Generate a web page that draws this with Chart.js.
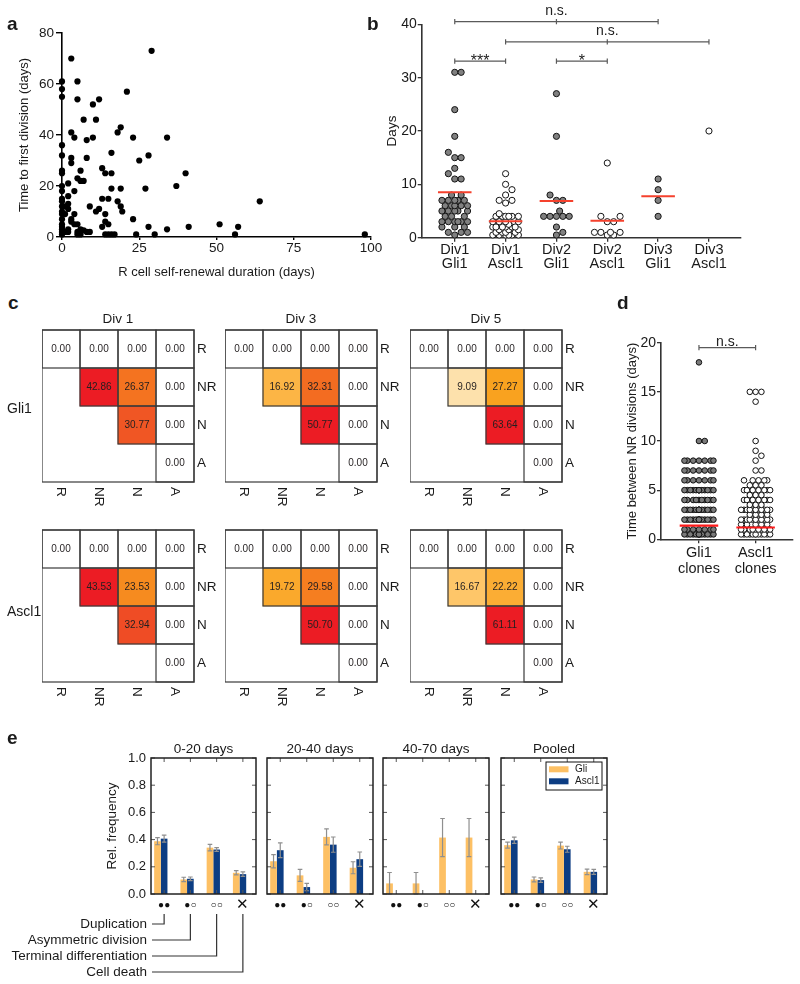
<!DOCTYPE html>
<html><head><meta charset="utf-8">
<script src="https://cdn.jsdelivr.net/npm/chart.js@4.4.1/dist/chart.umd.min.js"></script>
<style>
html,body{margin:0;padding:0;background:#fff;}
#fig{position:relative;width:800px;height:984px;overflow:hidden;font-family:'Liberation Sans',Arial,sans-serif;color:#1a1a1a;}
.lbl{position:absolute;white-space:nowrap;}
canvas{position:absolute;}
</style></head><body><div id="fig"></div>
<script>
// ---------------- DATA ----------------
// Panel a
const aSelfRenewal = [29,3,0,5,0,21,0,5,12,10, 7,11,19,18,3,4,10,23,34,8, 0,16,28,0,3,8,25,3,13,0, 6,0,14,16,40,5,6,7,2,0, 37,16,19,27,0,4,2,13,15,0, 18,64,2,0,9,19,2,12,0,11, 19.5,0,4,14,1,3,0,23,14,5, 0,15,51,13,28,41,57,0,6,2, 34,0,7,1,2,8,9,0,5,5, 6,14,15,16,17,24,30,56,98,0, 3,1,0,4];
const aFirstDivision = [73,70,61,61,58,57,55,54,54,52, 46,46,43,41,41,39,39,39,39,38, 36,33,32,32,31,31,30,29,27,26, 26,25,25,25,25,23,22,22,21,20, 20,19,19,19,18,18,16,15,15,14, 14,14,13,12,12,12,11,11,10,10, 10,9,9,9,9,7,7,7,6,5, 5,5,5,4,4,4,4,4,3,3, 3,3,2.6,2,2,2,2,2,2,1, 1,1,1,1,1,1,1,1,1,1, 6,12,15,5];

// Panel b
const bCategories = [['Div1','Gli1'],['Div1','Ascl1'],['Div2','Gli1'],['Div2','Ascl1'],['Div3','Gli1'],['Div3','Ascl1']];
const bDiv1Gli1 = [31,31,24,19,16,15,15,13,12,11,11,8,8,7,7,7,7,7,6,6,6,6,6,5,5,5,5,5,4,4,4,3,3,3,3,3,3,2,2,2,1,1,1,0.5];
const bDiv1Ascl1 = [12,10,9,8,7,7,6.5,4.5,4,4,4,4,4,4,3,3,3,3,2.5,2,2,2,2,2,2,1.5,1.5,1.5,1,1,1,1,0.5,0.5,0.5,0.5,0.5,0.5];
const bDiv2Gli1 = [27,19,8,7,7,5,4,4,4,4,4,2,1,0.5];
const bDiv2Ascl1 = [14,4,4,3,3,1,1,1,1,0.5,0.5];
const bDiv3Gli1 = [11,9,7,4];
const bDiv3Ascl1 = [20];
const bMeans = [8.5,3.1,6.9,3.2,7.75,null];
const bBrackets = [
  {from:0,to:4,mid:2,y:40.5,label:'n.s.',size:14,gap:6.7},
  {from:1,to:5,mid:3,y:36.7,label:'n.s.',size:14,gap:6.7},
  {from:0,to:1,y:33.1,label:'***',size:16,gap:-4.5},
  {from:2,to:3,y:33.1,label:'*',size:16,gap:-4.5}
];

// Panel c
const cRowLabels = ['R','NR','N','A'];
const cGli1Div1 = [[0,0,0,0],[null,42.86,26.37,0],[null,null,30.77,0],[null,null,null,0]];
const cGli1Div3 = [[0,0,0,0],[null,16.92,32.31,0],[null,null,50.77,0],[null,null,null,0]];
const cGli1Div5 = [[0,0,0,0],[null,9.09,27.27,0],[null,null,63.64,0],[null,null,null,0]];
const cAscl1Div1 = [[0,0,0,0],[null,43.53,23.53,0],[null,null,32.94,0],[null,null,null,0]];
const cAscl1Div3 = [[0,0,0,0],[null,19.72,29.58,0],[null,null,50.70,0],[null,null,null,0]];
const cAscl1Div5 = [[0,0,0,0],[null,16.67,22.22,0],[null,null,61.11,0],[null,null,null,0]];

// Panel d  ([value, number of clones])
const dCategories = [['Gli1','clones'],['Ascl1','clones']];
const dGli1Counts = [[18,1],[10,2],[8,7],[7,7],[6,7],[5,14],[4,10],[3,14],[2,14],[1,7],[0.5,14]];
const dAscl1Counts = [[15,3],[14,1],[10,1],[9,1],[8.5,1],[8,1],[7,2],[6,5],[5.5,3],[5,7],[4.5,3],[4,7],[3.5,3],[3,12],[2.5,4],[2,12],[1.5,5],[1,10],[0.5,12]];
const dMedians = [1.4,1.2];
const dBrackets = [{from:0,to:1,y:19.5,label:'n.s.',size:14,gap:1.8}];

// Panel e
const eCategories = ['●●','●○','○○','✕'];
const eEventNames = ['Duplication','Asymmetric division','Terminal differentiation','Cell death'];
const eWindows = ['0-20 days','20-40 days','40-70 days','Pooled'];
const eGli_0_20 = [0.388,0.107,0.341,0.156];
const eGliErr_0_20 = [0.026,0.016,0.024,0.016];
const eAscl1_0_20 = [0.407,0.112,0.327,0.146];
const eAscl1Err_0_20 = [0.026,0.013,0.014,0.016];
const eGli_20_40 = [0.241,0.137,0.42,0.193];
const eGliErr_20_40 = [0.049,0.044,0.059,0.044];
const eAscl1_20_40 = [0.322,0.051,0.363,0.256];
const eAscl1Err_20_40 = [0.054,0.027,0.056,0.053];
const eGli_40_70 = [0.078,0.078,0.415,0.415];
const eGliErr_40_70 = [0.08,0.08,0.14,0.14];
const eAscl1_40_70 = [0,0,0,0];
const eAscl1Err_40_70 = [0,0,0,0];
const eGli_pooled = [0.359,0.107,0.356,0.163];
const eGliErr_pooled = [0.022,0.018,0.025,0.02];
const eAscl1_pooled = [0.395,0.102,0.329,0.163];
const eAscl1Err_pooled = [0.023,0.017,0.022,0.018];
const eYTicks = [0,0.2,0.4,0.6,0.8,1.0];

// ---------------- SETUP ----------------
const FONT = "'Liberation Sans', Arial, sans-serif";
Chart.defaults.font.family = FONT;
Chart.defaults.color = '#1a1a1a';
Chart.defaults.animation = false;
Chart.defaults.responsive = false;
Chart.defaults.devicePixelRatio = 1;
Chart.defaults.events = [];
Chart.defaults.plugins.legend.display = false;
Chart.defaults.plugins.tooltip.enabled = false;

const fig = document.getElementById('fig');
function mk(left, top, w, h) {
  const c = document.createElement('canvas');
  c.width = w; c.height = h;
  c.style.left = left + 'px'; c.style.top = top + 'px';
  c.style.width = w + 'px'; c.style.height = h + 'px';
  fig.appendChild(c);
  return c;
}
function zeroPad(s){ s.paddingTop = 0; s.paddingBottom = 0; s.paddingLeft = 0; s.paddingRight = 0; }
function fixW(w){ return s => { s.width = w; zeroPad(s); }; }
function fixH(h){ return s => { s.height = h; zeroPad(s); }; }
function label(str, left, baseline, size, weight) {
  const d = document.createElement('div');
  d.className = 'lbl';
  d.textContent = str;
  d.style.left = left + 'px';
  d.style.top = (baseline - 0.8465 * size) + 'px';
  d.style.fontSize = size + 'px';
  d.style.lineHeight = size + 'px';
  d.style.fontWeight = weight || 'normal';
  fig.appendChild(d);
}
function expand(counts){ const out = []; counts.forEach(([v,n]) => { for (let i = 0; i < n; i++) out.push(v); }); return out; }

// beeswarm: spreads each group's points sideways (in pixels) so they do not overlap
function applySwarm(chart, groups, diam, maxHalf) {
  const xs = chart.scales.x, ys = chart.scales.y;
  const cands = [0];
  for (let k = 1; k * diam / 2 <= maxHalf + 0.01; k++) cands.push(k * diam / 2, -k * diam / 2);
  groups.forEach((vals, gi) => {
    const cx = xs.getPixelForValue(gi);
    const placed = [];
    const sorted = vals.slice().sort((a, b) => a - b);
    chart.data.datasets[gi].data = sorted.map(v => {
      const py = ys.getPixelForValue(v);
      let best = 0, bestD = -1;
      for (const off of cands) {
        const md = placed.reduce((m, p) => Math.min(m, Math.hypot(p.x - off, p.y - py)), Infinity);
        if (md >= diam - 0.01) { best = off; break; }
        if (md > bestD) { bestD = md; best = off; }
      }
      placed.push({x: best, y: py});
      return {x: xs.getValueForPixel(cx + best), y: v};
    });
  });
  chart.update();
}

function bracketPlugin(brackets, color) {
  return { id: 'brackets', afterDatasetsDraw(chart) {
    const {ctx, scales: {x, y}} = chart;
    ctx.save();
    ctx.strokeStyle = color; ctx.lineWidth = 1.2; ctx.fillStyle = '#222';
    ctx.textAlign = 'center'; ctx.textBaseline = 'alphabetic';
    brackets.forEach(b => {
      const x0 = x.getPixelForValue(b.from), x1 = x.getPixelForValue(b.to), py = y.getPixelForValue(b.y);
      ctx.beginPath(); ctx.moveTo(x0, py); ctx.lineTo(x1, py);
      [b.from, b.to].concat(b.mid != null ? [b.mid] : []).forEach(t => {
        const px = x.getPixelForValue(t); ctx.moveTo(px, py - 2.6); ctx.lineTo(px, py + 2.6);
      });
      ctx.stroke();
      ctx.font = b.size + 'px ' + FONT;
      const tx = x.getPixelForValue(b.mid != null ? b.mid : (b.from + b.to) / 2);
      ctx.fillText(b.label, tx, py - b.gap);
    });
    ctx.restore();
  }};
}
function centerLinePlugin(values, half, color, width) {
  return { id: 'centerLines', afterDatasetsDraw(chart) {
    const {ctx, scales: {x, y}} = chart;
    ctx.save(); ctx.strokeStyle = color; ctx.lineWidth = width;
    values.forEach((v, i) => {
      if (v == null) return;
      const py = y.getPixelForValue(v);
      ctx.beginPath(); ctx.moveTo(x.getPixelForValue(i - half), py); ctx.lineTo(x.getPixelForValue(i + half), py); ctx.stroke();
    });
    ctx.restore();
  }};
}

// ---------------- PANEL a ----------------
new Chart(mk(0, 0, 392, 285), {
  type: 'scatter',
  data: { datasets: [{ data: aSelfRenewal.map((x, i) => ({x, y: aFirstDivision[i]})),
    backgroundColor: '#000', borderColor: '#000', borderWidth: 0, pointRadius: 3.1, clip: false }] },
  options: {
    layout: { padding: { left: 0, top: 33, right: 21, bottom: 0 } },
    scales: {
      x: { type: 'linear', min: 0, max: 100,
        ticks: { stepSize: 25, font: { size: 13.5 }, padding: 0, maxRotation: 0 },
        grid: { drawOnChartArea: false, drawTicks: true, tickLength: 3, color: '#000', lineWidth: 1.4 },
        border: { color: '#000', width: 1.6 },
        title: { display: true, text: 'R cell self-renewal duration (days)', font: { size: 13 }, padding: { top: 0, bottom: 5.2 } },
        afterFit: fixH(48) },
      y: { min: 0, max: 80,
        ticks: { stepSize: 20, font: { size: 13.5 }, padding: 2 },
        grid: { drawOnChartArea: false, drawTicks: true, tickLength: 6, color: '#000', lineWidth: 1.4 },
        border: { color: '#000', width: 1.6 },
        title: { display: true, text: 'Time to first division (days)', font: { size: 13 }, padding: { top: 16.4, bottom: 0 } },
        afterFit: fixW(62) }
    }
  }
});

// ---------------- PANEL b ----------------
const bGroups = [bDiv1Gli1, bDiv1Ascl1, bDiv2Gli1, bDiv2Ascl1, bDiv3Gli1, bDiv3Ascl1];
const bChart = new Chart(mk(380, 0, 420, 290), {
  type: 'scatter',
  data: { datasets: bGroups.map((vals, i) => ({
    data: vals.map(v => ({x: i, y: v})),
    backgroundColor: i % 2 ? '#ffffff' : '#808080', borderColor: '#151515', borderWidth: 1,
    pointRadius: 3.1, clip: false })) },
  options: {
    layout: { padding: { left: 0, top: 24.3, right: 59, bottom: 0 } },
    scales: {
      x: { type: 'linear', min: -0.65, max: 5.63,
        afterBuildTicks: s => { s.ticks = bCategories.map((c, i) => ({ value: i })); },
        ticks: { callback: (v, i) => bCategories[i], font: { size: 14.5, lineHeight: '13.3px' }, padding: 2, maxRotation: 0, autoSkip: false },
        grid: { drawOnChartArea: false, drawTicks: true, tickLength: 4, color: '#333', lineWidth: 1.3 },
        border: { color: '#333', width: 1.6 },
        afterFit: fixH(52.3) },
      y: { min: 0, max: 40,
        ticks: { stepSize: 10, font: { size: 14 }, padding: 1 },
        grid: { drawOnChartArea: false, drawTicks: true, tickLength: 4, color: '#333', lineWidth: 1.3 },
        border: { color: '#333', width: 1.6 },
        title: { display: true, text: 'Days', font: { size: 13.5 }, padding: { top: 4.5, bottom: 0 } },
        afterFit: fixW(41.7) }
    }
  },
  plugins: [centerLinePlugin(bMeans, 0.33, '#f5412d', 2), bracketPlugin(bBrackets, '#5a5a5a')]
});
applySwarm(bChart, bGroups, 6.4, 14);

// ---------------- PANEL c ----------------
const heatStops = [[0,'#ffffff'],[0.14,'#fde2ad'],[0.27,'#fec76b'],[0.36,'#fbae35'],[0.43,'#f9a21f'],[0.55,'#f6891f'],[0.64,'#f36b21'],[0.76,'#ef4b25'],[1,'#ec1c24']];
function hex2rgb(h){ return [1,3,5].map(i => parseInt(h.slice(i, i + 2), 16)); }
function heat(v, max) {
  if (v === null) return 'rgba(0,0,0,0)';
  if (v === 0) return '#ffffff';
  const t = Math.min(1, v / max);
  for (let i = 1; i < heatStops.length; i++) {
    if (t <= heatStops[i][0]) {
      const [t0, c0] = heatStops[i - 1], [t1, c1] = heatStops[i];
      const f = (t - t0) / (t1 - t0), a = hex2rgb(c0), b = hex2rgb(c1);
      return 'rgb(' + a.map((x, k) => Math.round(x + (b[k] - x) * f)).join(',') + ')';
    }
  }
  return heatStops[heatStops.length - 1][1];
}
function matrixPlugin(title, mat) {
  return { id: 'matrixDecor', afterDatasetsDraw(chart) {
    const {ctx, chartArea: a, scales: {x, y}} = chart;
    const cw = (a.right - a.left) / 4;
    ctx.save();
    ctx.strokeStyle = '#3a3a3a'; ctx.lineWidth = 1.2;
    mat.forEach((row, r) => row.forEach((v, c) => {
      if (v === null) return;
      const x0 = x.getPixelForValue(c) - cw / 2, y0 = y.getPixelForValue(r), y1 = y.getPixelForValue(r + 1);
      ctx.strokeRect(x0, y0, cw, y1 - y0);
    }));
    ctx.strokeRect(a.left, a.top, a.right - a.left, a.bottom - a.top);
    ctx.fillStyle = '#231f20'; ctx.font = '10px ' + FONT; ctx.textAlign = 'center'; ctx.textBaseline = 'middle';
    mat.forEach((row, r) => row.forEach((v, c) => {
      if (v === null) return;
      ctx.fillText(v.toFixed(2), x.getPixelForValue(c), y.getPixelForValue(r + 0.5));
    }));
    ctx.fillStyle = '#1a1a1a'; ctx.font = '13.5px ' + FONT;
    if (title) {
      ctx.textAlign = 'center'; ctx.textBaseline = 'alphabetic';
      ctx.fillText(title, (a.left + a.right) / 2, a.top - 7);
    }
    ctx.textAlign = 'left'; ctx.textBaseline = 'middle';
    cRowLabels.forEach((l, c) => {
      ctx.save(); ctx.translate(x.getPixelForValue(c), a.bottom + 5); ctx.rotate(Math.PI / 2);
      ctx.fillText(l, 0, 0); ctx.restore();
    });
    ctx.restore();
  }};
}
function matrixChart(left, top, title, mat) {
  const size = 152, padTop = 24, padBottom = 38, axisW = 34;
  const max = Math.max(...mat.flat().filter(v => v !== null));
  new Chart(mk(left, top - padTop, size + axisW, padTop + size + padBottom), {
    type: 'bar',
    data: { labels: cRowLabels, datasets: mat.map((row, r) => ({
      data: row.map(v => v === null ? null : [r, r + 1]),
      backgroundColor: row.map(v => heat(v, max)),
      borderWidth: 0, barPercentage: 1, categoryPercentage: 1, grouped: false })) },
    options: {
      layout: { padding: { left: 0, right: 0, top: padTop, bottom: padBottom } },
      scales: {
        x: { display: false },
        y: { position: 'right', min: 0, max: 4, reverse: true,
          afterBuildTicks: s => { s.ticks = cRowLabels.map((l, i) => ({ value: i + 0.5 })); },
          ticks: { callback: (v, i) => cRowLabels[i], font: { size: 13.5 }, padding: 3, autoSkip: false },
          grid: { display: false, drawTicks: false }, border: { display: false },
          afterFit: fixW(axisW) }
      }
    },
    plugins: [matrixPlugin(title, mat)]
  });
}
matrixChart(42, 330, 'Div 1', cGli1Div1);
matrixChart(225, 330, 'Div 3', cGli1Div3);
matrixChart(410, 330, 'Div 5', cGli1Div5);
matrixChart(42, 530, '', cAscl1Div1);
matrixChart(225, 530, '', cAscl1Div3);
matrixChart(410, 530, '', cAscl1Div5);

// ---------------- PANEL d ----------------
const dGroups = [expand(dGli1Counts), expand(dAscl1Counts)];
const dChart = new Chart(mk(600, 290, 200, 290), {
  type: 'scatter',
  data: { datasets: dGroups.map((vals, i) => ({
    data: vals.map(v => ({x: i, y: v})),
    backgroundColor: i ? '#ffffff' : '#7a7a7a', borderColor: '#111', borderWidth: 1,
    pointRadius: 2.8, clip: false })) },
  options: {
    layout: { padding: { left: 0, top: 52.7, right: 7, bottom: 0 } },
    scales: {
      x: { type: 'linear', min: -0.67, max: 1.66,
        afterBuildTicks: s => { s.ticks = dCategories.map((c, i) => ({ value: i })); },
        ticks: { callback: (v, i) => dCategories[i], font: { size: 14.5, lineHeight: '16px' }, padding: 1.4, maxRotation: 0, autoSkip: false },
        grid: { drawOnChartArea: false, drawTicks: true, tickLength: 4, color: '#333', lineWidth: 1.3 },
        border: { color: '#333', width: 1.6 },
        afterFit: fixH(40.7) },
      y: { min: 0, max: 20,
        ticks: { stepSize: 5, font: { size: 14 }, padding: 1 },
        grid: { drawOnChartArea: false, drawTicks: true, tickLength: 4, color: '#333', lineWidth: 1.3 },
        border: { color: '#333', width: 1.6 },
        title: { display: true, text: 'Time between NR divisions (days)', font: { size: 13 }, padding: { top: 24.7, bottom: 0 } },
        afterFit: fixW(61) }
    }
  },
  plugins: [centerLinePlugin(dMedians, 0.34, '#ff1a1a', 2.2), bracketPlugin(dBrackets, '#5a5a5a')]
});
applySwarm(dChart, dGroups, 5.8, 17);

// ---------------- PANEL e ----------------
const eGli = [eGli_0_20, eGli_20_40, eGli_40_70, eGli_pooled];
const eGliErr = [eGliErr_0_20, eGliErr_20_40, eGliErr_40_70, eGliErr_pooled];
const eAscl1 = [eAscl1_0_20, eAscl1_20_40, eAscl1_40_70, eAscl1_pooled];
const eAscl1Err = [eAscl1Err_0_20, eAscl1Err_20_40, eAscl1Err_40_70, eAscl1Err_pooled];

const errPlugin = { id: 'errbars', afterDatasetsDraw(chart) {
  const {ctx, scales: {y}} = chart;
  ctx.save(); ctx.strokeStyle = '#8f8f8f'; ctx.lineWidth = 1.2;
  chart.data.datasets.forEach((ds, di) => {
    if (!ds.errors) return;
    chart.getDatasetMeta(di).data.forEach((el, i) => {
      const e = ds.errors[i]; if (!e) return;
      const v = ds.data[i];
      const y0 = y.getPixelForValue(Math.max(0, v - e)), y1 = y.getPixelForValue(v + e);
      ctx.beginPath();
      ctx.moveTo(el.x, y0); ctx.lineTo(el.x, y1);
      ctx.moveTo(el.x - 2.3, y0); ctx.lineTo(el.x + 2.3, y0);
      ctx.moveTo(el.x - 2.3, y1); ctx.lineTo(el.x + 2.3, y1);
      ctx.stroke();
    });
  });
  ctx.restore();
}};
const framePlugin = { id: 'frame', afterDatasetsDraw(chart) {
  const {ctx, chartArea: a, scales: {x, y}} = chart;
  ctx.save();
  ctx.strokeStyle = '#555'; ctx.lineWidth = 1; ctx.beginPath();
  eCategories.forEach((c, i) => {
    const px = x.getPixelForValue(i);
    ctx.moveTo(px, a.bottom); ctx.lineTo(px, a.bottom - 4);
    ctx.moveTo(px, a.top); ctx.lineTo(px, a.top + 4);
  });
  eYTicks.forEach(v => {
    const py = y.getPixelForValue(v);
    ctx.moveTo(a.left, py); ctx.lineTo(a.left + 4, py);
    ctx.moveTo(a.right, py); ctx.lineTo(a.right - 4, py);
  });
  ctx.stroke();
  ctx.strokeStyle = '#222'; ctx.lineWidth = 1.5;
  ctx.strokeRect(a.left, a.top, a.right - a.left, a.bottom - a.top);
  ctx.restore();
}};
function titlePlugin(text) {
  return { id: 'ptitle', afterDraw(chart) {
    const {ctx, chartArea: a} = chart;
    ctx.save(); ctx.fillStyle = '#1a1a1a'; ctx.font = '13.5px ' + FONT;
    ctx.textAlign = 'center'; ctx.textBaseline = 'alphabetic';
    ctx.fillText(text, (a.left + a.right) / 2, a.top - 5.5);
    ctx.restore();
  }};
}
const annotPlugin = { id: 'annot', afterDraw(chart) {
  const {ctx, chartArea: a, scales: {x}} = chart;
  ctx.save();
  ctx.font = '13.5px ' + FONT; ctx.fillStyle = '#1a1a1a';
  ctx.textAlign = 'right'; ctx.textBaseline = 'middle';
  ctx.strokeStyle = '#333'; ctx.lineWidth = 1.2;
  eEventNames.forEach((name, i) => {
    const ty = a.bottom + 30 + i * 16;
    const px = x.getPixelForValue(i);
    ctx.fillText(name, a.left - 4, ty);
    ctx.beginPath(); ctx.moveTo(a.left + 1, ty); ctx.lineTo(px, ty); ctx.lineTo(px, a.bottom + 20); ctx.stroke();
  });
  ctx.restore();
}};
const legendPlugin = { id: 'elegend', afterDraw(chart) {
  const {ctx, chartArea: a} = chart;
  const w = 56, h = 28, bx = a.right - 5 - w, by = a.top + 4;
  ctx.save();
  ctx.fillStyle = '#fff'; ctx.fillRect(bx, by, w, h);
  ctx.strokeStyle = '#111'; ctx.lineWidth = 1; ctx.strokeRect(bx, by, w, h);
  ctx.font = '10px ' + FONT; ctx.textAlign = 'left'; ctx.textBaseline = 'middle';
  chart.data.datasets.filter(d => d.label).forEach((d, i) => {
    const cy = by + 7.3 + i * 12;
    ctx.fillStyle = d.backgroundColor; ctx.fillRect(bx + 3, cy - 3, 19.5, 6);
    ctx.fillStyle = '#1a1a1a'; ctx.fillText(d.label, bx + 29, cy);
  });
  ctx.restore();
}};
function eChart(k, left, width, height, pad, showAxis, extra) {
  new Chart(mk(left, 735, width, height), {
    type: 'bar',
    data: { labels: eCategories, datasets: [
      { label: 'Gli', data: eGli[k], errors: eGliErr[k], backgroundColor: '#fdc064', barPercentage: 1, categoryPercentage: 0.76 },
      { label: 'Ascl1', data: eAscl1[k], errors: eAscl1Err[k], backgroundColor: '#0c3d83', barPercentage: 1, categoryPercentage: 0.76 },
      { label: '', data: [null, null, null, null], backgroundColor: 'rgba(0,0,0,0)', barPercentage: 1, categoryPercentage: 0.76 }
    ] },
    options: {
      layout: { padding: pad },
      scales: {
        x: { offset: true,
          ticks: { font: c => c.index === 3 ? { size: 15, lineHeight: '10px' } : { size: 10, lineHeight: '10px' }, padding: 6.3, color: '#111', maxRotation: 0, autoSkip: false },
          grid: { display: false, drawTicks: false }, border: { display: false },
          afterFit: fixH(20) },
        y: { display: showAxis, min: 0, max: 1,
          ticks: { stepSize: 0.2, callback: v => v.toFixed(1), font: { size: 13 }, padding: 5 },
          grid: { display: false, drawTicks: false }, border: { display: false },
          title: { display: showAxis, text: 'Rel. frequency', font: { size: 13.5 }, padding: { top: 9.4, bottom: 0 } },
          afterFit: fixW(showAxis ? 56 : 0) }
      }
    },
    plugins: [errPlugin, framePlugin, titlePlugin(eWindows[k])].concat(extra)
  });
}
eChart(0, 0, 260, 249, { left: 95, top: 23, right: 4, bottom: 70 }, true, [annotPlugin]);
eChart(1, 265, 110, 179, { left: 2, top: 23, right: 2, bottom: 0 }, false, []);
eChart(2, 381, 110, 179, { left: 2, top: 23, right: 2, bottom: 0 }, false, []);
eChart(3, 499, 110, 179, { left: 2, top: 23, right: 2, bottom: 0 }, false, [legendPlugin]);

// ---------------- TEXT LABELS ----------------
label('a', 7, 30, 19, 'bold');
label('b', 367, 30, 19, 'bold');
label('c', 8, 309, 19, 'bold');
label('d', 617, 309, 19, 'bold');
label('e', 7, 744, 19, 'bold');
label('Gli1', 7, 413, 14);
label('Ascl1', 7, 616, 14);
</script></body></html>
